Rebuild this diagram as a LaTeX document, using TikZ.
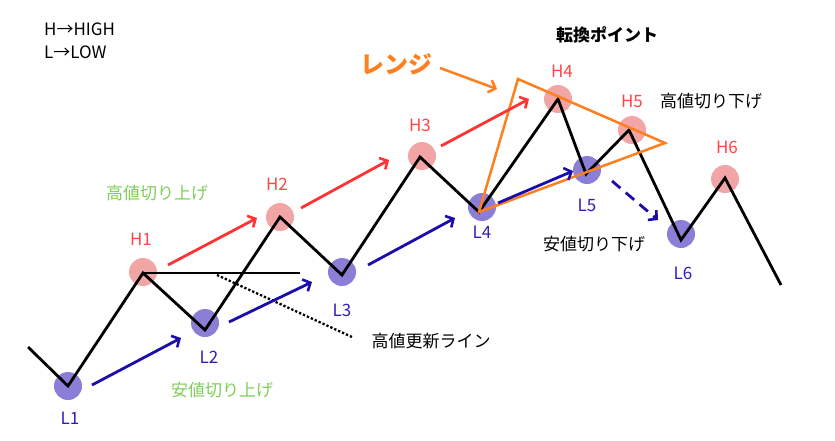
\documentclass[tikz,border=0pt]{standalone}
\usepackage{fontspec}
\setmainfont{Noto Sans CJK JP}
\usetikzlibrary{arrows.meta}
\definecolor{hred}{HTML}{FF4545}
\definecolor{lblue}{HTML}{2E1FB8}
\definecolor{pinkc}{HTML}{F2A5A5}
\definecolor{purc}{HTML}{8A7ED6}
\definecolor{grn}{HTML}{7DCE5A}
\definecolor{arred}{HTML}{FF3333}
\definecolor{arblue}{HTML}{1B0DAA}
\definecolor{org}{HTML}{FF7F1E}
\begin{document}
\begin{tikzpicture}[x=1pt,y=-1pt,
  hc/.style={circle,fill=pinkc,minimum size=28pt,inner sep=0pt},
  lc/.style={circle,fill=purc,minimum size=28pt,inner sep=0pt},
  lab/.style={inner sep=0pt,font=\fontsize{17}{20}\selectfont},
  hl/.style={lab,text=hred},
  ll/.style={lab,text=lblue},
  gl/.style={lab,text=grn},
  bl/.style={lab,text=black},
  zig/.style={line width=2.8pt,line join=miter},
  barb/.style={-{Straight Barb[length=6pt,width=13pt,line width=2.6pt]}},
  rarr/.style={arred,line width=2.8pt,barb},
  barr/.style={arblue,line width=2.8pt,barb},
  oline/.style={org,line width=2.5pt,line join=miter}]
\useasboundingbox (0,0) rectangle (835,440);
% circles
\node[lc] (L1) at (68,386) {};
\node[hc] (H1) at (143,272) {};
\node[lc] (L2) at (205,323) {};
\node[hc] (H2) at (280,217) {};
\node[lc] (L3) at (342,272) {};
\node[hc] (H3) at (422,156) {};
\node[lc] (L4) at (482,207) {};
\node[hc] (H4) at (558,99) {};
\node[lc] (L5) at (587,170) {};
\node[hc] (H5) at (632,130) {};
\node[lc] (L6) at (681,234) {};
\node[hc] (H6) at (725,179) {};
% zigzag vertices
\coordinate (s) at (28,347);
\coordinate (v1) at (68,386);
\coordinate (v2) at (143,273);
\coordinate (v3) at (205,330);
\coordinate (v4) at (280,217);
\coordinate (v5) at (342,275);
\coordinate (v6) at (420,157);
\coordinate (v7) at (479,212);
\coordinate (v8) at (558,99);
\coordinate (v9) at (586,174);
\coordinate (v10) at (629,130);
\coordinate (v11) at (681,240);
\coordinate (v12) at (725,178);
\coordinate (e) at (781,285);
\draw[zig] (s) -- (v1) -- (v2) -- (v3) -- (v4) -- (v5) -- (v6) -- (v7) -- (v8) -- (v9) -- (v10) -- (v11) -- (v12) -- (e);
% high update line
\coordinate (hlend) at (300,273);
\draw[line width=2.8pt] (v2) -- (hlend);
\coordinate (d1) at (217,275);
\coordinate (d2) at (352,337);
\draw[line width=2.3pt,dotted] (d1) -- (d2);
% orange range triangle
\coordinate (ot) at (518,79);
\coordinate (or) at (665,143);
\draw[oline] (v7) -- (ot) -- (or) -- cycle;
% red arrows
\coordinate (ra1) at (168,265); \coordinate (rb1) at (257,218);
\coordinate (ra2) at (301,208); \coordinate (rb2) at (389,160);
\coordinate (ra3) at (441,146); \coordinate (rb3) at (529,99);
\draw[rarr] (ra1) -- (rb1);
\draw[rarr] (ra2) -- (rb2);
\draw[rarr] (ra3) -- (rb3);
% blue arrows
\coordinate (ba1) at (92,385); \coordinate (bb1) at (181,338);
\coordinate (ba2) at (229,322); \coordinate (bb2) at (312,282);
\coordinate (ba3) at (368,265); \coordinate (bb3) at (455,218);
\coordinate (ba4) at (498,203); \coordinate (bb4) at (573,171);
\coordinate (ba5) at (612,181); \coordinate (bb5) at (658,220);
\draw[barr] (ba1) -- (bb1);
\draw[barr] (ba2) -- (bb2);
\draw[barr] (ba3) -- (bb3);
\draw[barr] (ba4) -- (bb4);
\draw[barr,dash pattern=on 11pt off 7pt] (ba5) -- (bb5);
% orange range label arrow
\node[inner sep=0pt,text=org,font=\fontsize{24}{28}\selectfont\bfseries] (range) at (396,64) {レンジ};
\coordinate (oa) at (440,68); \coordinate (ob) at (497,89);
\draw[org,line width=2.5pt,barb] (oa) -- (ob);
% point labels
\node[hl] at (141,239) {H1};
\node[hl] at (277,184) {H2};
\node[hl] at (420,125) {H3};
\node[hl] at (562,71) {H4};
\node[hl] at (632,101) {H5};
\node[hl] at (727,147) {H6};
\node[ll] at (70,418) {L1};
\node[ll] at (209,357) {L2};
\node[ll] at (342,310) {L3};
\node[ll] at (482,232) {L4};
\node[ll] at (587,205) {L5};
\node[ll] at (683,273) {L6};
% texts
\node[bl,anchor=west,font=\fontsize{17}{20}\selectfont] at (44,29) {H→HIGH};
\node[bl,anchor=west,font=\fontsize{17}{20}\selectfont] at (44,52) {L→LOW};
\node[bl,font=\fontsize{17}{20}\selectfont\bfseries] at (607,35) {転換ポイント};
\node[bl] at (711,101) {高値切り下げ};
\node[bl] at (594,244) {安値切り下げ};
\node[gl] at (157,193) {高値切り上げ};
\node[gl] at (222,390) {安値切り上げ};
\node[bl] at (431,341) {高値更新ライン};
\end{tikzpicture}
\end{document}
